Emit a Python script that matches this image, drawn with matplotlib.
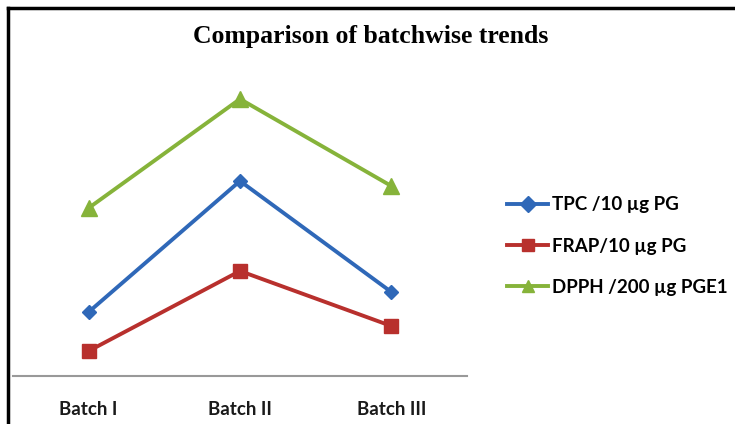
import matplotlib.pyplot as plt
from matplotlib.lines import Line2D

# data (arbitrary units - no y axis shown)
batches = ['Batch I', 'Batch II', 'Batch III']
tpc = [64, 195, 84]
frap = [25, 105, 50]
dpph = [168, 277, 190]

labels = ['TPC /10 \u00b5g PG', 'FRAP/10 \u00b5g PG', 'DPPH /200 \u00b5g PGE1']
colors = ['#2F68B8', '#B8302D', '#86B33A']
markers = ['D', 's', '^']

fig = plt.figure(figsize=(7.35, 4.24), dpi=100)
ax = fig.add_axes([13 / 735, 1 - 376 / 424, 454 / 735, 320 / 424])

x = range(len(batches))
ms = [7, 10, 11]
for vals, lab, col, mk, s in zip([tpc, frap, dpph], labels, colors, markers, ms):
    ax.plot(x, vals, color=col, marker=mk, markersize=s, linewidth=2.8,
            label=lab, clip_on=False)

ax.set_xlim(-0.5, 2.5)
ax.set_ylim(0, 320)
ax.set_yticks([])
ax.set_xticks(list(x))
ax.set_xticklabels(batches, fontfamily='Lato', fontweight='bold', fontsize=13.5,
                   color='#1a1a1a')
ax.tick_params(axis='x', length=0, pad=18)
for side in ['top', 'right', 'left']:
    ax.spines[side].set_visible(False)
ax.spines['bottom'].set_color('#999999')
ax.spines['bottom'].set_linewidth(1.5)

fig.text(371 / 735, 1 - 37 / 424, 'Comparison of batchwise trends',
         ha='center', va='center', fontfamily='Liberation Serif',
         fontweight='bold', fontsize=18.5)

# legend on the right
handles, labs = ax.get_legend_handles_labels()
leg = fig.legend(handles, labs, loc='center left',
                 bbox_to_anchor=(490 / 735, 1 - 246 / 424),
                 frameon=False, handlelength=2.2, handletextpad=0.2,
                 labelspacing=1.3,
                 prop={'family': 'Lato', 'weight': 'bold', 'size': 13.5})
for h in leg.legend_handles:
    h.set_markersize(8)

# frame lines at top and left
fig.add_artist(Line2D([8 / 735, 1], [1 - 8 / 424, 1 - 8 / 424],
                      transform=fig.transFigure, color='black', linewidth=2.5))
fig.add_artist(Line2D([8 / 735, 8 / 735], [0, 1 - 8 / 424],
                      transform=fig.transFigure, color='black', linewidth=2.5))

fig.savefig('out.png', dpi=100)
